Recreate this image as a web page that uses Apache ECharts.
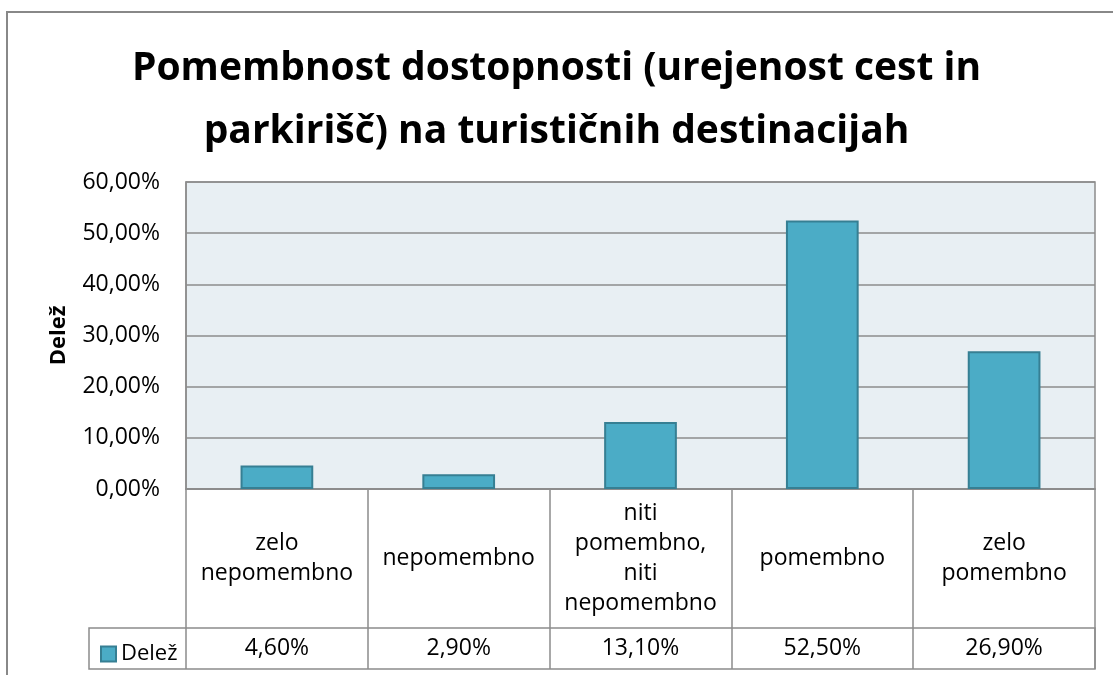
<!DOCTYPE html>
<html>
<head>
<meta charset="utf-8">
<script src="https://cdn.jsdelivr.net/npm/echarts@6/dist/echarts.min.js"></script>
<style>
  html, body { margin: 0; padding: 0; background: #fff; }
  #chart { width: 1113px; height: 675px; }
</style>
</head>
<body>
<div id="chart"></div>
<script>
document.addEventListener("DOMContentLoaded", function(event) {
  // podatki
  var categories = ['zelo\nnepomembno', 'nepomembno', 'niti\npomembno,\nniti\nnepomembno', 'pomembno', 'zelo\npomembno'];
  var values = [4.6, 2.9, 13.1, 52.5, 26.9];
  var seriesName = 'Delež';
  var yTicks = [0, 10, 20, 30, 40, 50, 60];

  function pct(v) {
    return v.toFixed(2).replace('.', ',') + '%';
  }
  var valueLabels = values.map(pct);

  var font = '"Open Sans", sans-serif';
  var gray = '#8c8c8c';

  var myChart = echarts.init(document.getElementById('chart'));

  var option = {
    backgroundColor: '#fff',
    textStyle: { fontFamily: font, color: '#000' },
    title: {
      text: 'Pomembnost dostopnosti (urejenost cest in\nparkirišč) na turističnih destinacijah',
      left: 'center',
      top: 32,
      textStyle: {
        fontFamily: font,
        fontWeight: 'bold',
        fontSize: 39,
        lineHeight: 63,
        color: '#000'
      }
    },
    legend: {
      left: 95,
      top: 638,
      icon: 'rect',
      itemWidth: 15,
      itemHeight: 15,
      itemGap: 6,
      textStyle: { fontFamily: font, fontSize: 22, color: '#000' },
      data: [seriesName]
    },
    grid: {
      left: 186,
      right: 18,
      top: 182,
      height: 307,
      show: true,
      backgroundColor: '#e8eff3',
      borderColor: gray,
      borderWidth: 1.5
    },
    xAxis: [{
      type: 'category',
      data: categories,
      axisLine: { lineStyle: { color: gray, width: 2 } },
      axisTick: { show: true, length: 180, lineStyle: { color: gray, width: 1.5 } },
      axisLabel: {
        interval: 0,
        margin: 69,
        verticalAlign: 'middle',
        fontSize: 23,
        lineHeight: 30,
        color: '#000',
        fontFamily: font
      }
    }, {
      type: 'category',
      position: 'bottom',
      offset: 139,
      data: valueLabels,
      axisLine: { show: false },
      axisTick: { show: false },
      axisLabel: {
        interval: 0,
        margin: 20,
        verticalAlign: 'middle',
        fontSize: 23,
        color: '#000',
        fontFamily: font
      }
    }],
    yAxis: {
      type: 'value',
      min: yTicks[0],
      max: yTicks[yTicks.length - 1],
      interval: 10,
      name: 'Delež',
      nameLocation: 'middle',
      nameGap: 116,
      nameTextStyle: { fontFamily: font, fontWeight: 'bold', fontSize: 22, color: '#000' },
      axisLine: { show: true, lineStyle: { color: gray, width: 1.5 } },
      axisTick: { show: false },
      splitLine: { lineStyle: { color: gray, width: 1.5 } },
      axisLabel: {
        margin: 26,
        fontSize: 23,
        color: '#000',
        fontFamily: font,
        formatter: function (v) { return pct(v); }
      }
    },
    graphic: [
      // okvir grafikona
      { type: 'rect', shape: { x: 7, y: 12, width: 1200, height: 800 },
        style: { fill: null, stroke: '#888', lineWidth: 2 }, silent: true },
      // spodnja vrstica tabele
      { type: 'rect', shape: { x: 89, y: 628, width: 1006, height: 41 },
        style: { fill: null, stroke: gray, lineWidth: 1.5 }, silent: true }
    ],
    series: [{
      name: seriesName,
      type: 'bar',
      barWidth: '40%',
      data: values,
      itemStyle: { color: '#4bacc6', borderColor: '#367f93', borderWidth: 2 }
    }]
  };

  myChart.setOption(option);
});
</script>
</body>
</html>
